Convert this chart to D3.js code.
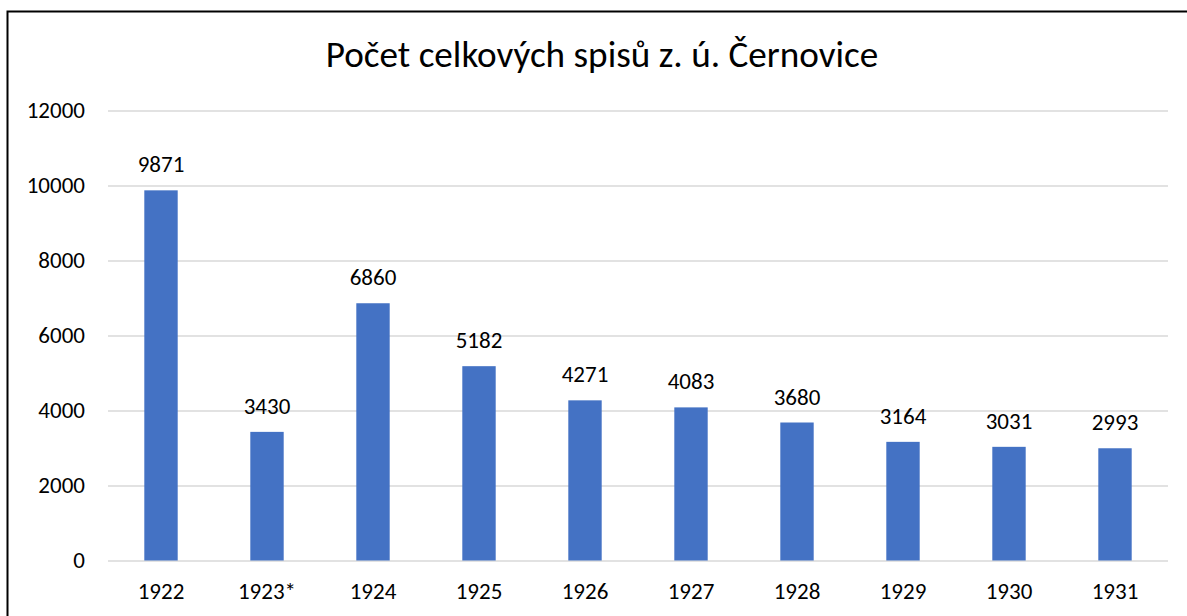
<!doctype html>
<html>
<head>
<meta charset="utf-8">
<script src="https://cdn.jsdelivr.net/npm/d3@7"></script>
<style>
  body { margin: 0; background: #fff; }
  svg { display: block; font-family: Carlito, "Noto Sans", sans-serif; }
</style>
</head>
<body>
<svg width="1187" height="616"></svg>
<script>
// data
var years = ["1922", "1923*", "1924", "1925", "1926", "1927", "1928", "1929", "1930", "1931"];
var counts = [9871, 3430, 6860, 5182, 4271, 4083, 3680, 3164, 3031, 2993];
var yTicks = [0, 2000, 4000, 6000, 8000, 10000, 12000];
var title = "Počet celkových spisů z. ú. Černovice";

var rows = years.map((y, i) => ({year: y, count: counts[i]}));

var svg = d3.select("svg");
var plotL = 108, plotR = 1168, plotT = 110.5, plotB = 560.5;
var fontStack = "Carlito, 'Noto Sans', sans-serif";

// outer frame (runs off the picture on right/bottom)
svg.append("rect")
   .attr("x", 7.5).attr("y", 11.5)
   .attr("width", 1300).attr("height", 700)
   .style("fill", "none")
   .style("stroke", "#000")
   .style("stroke-width", 2);

svg.append("text")
   .attr("x", 602).attr("y", 67)
   .attr("text-anchor", "middle")
   .style("font-size", "37.2px")
   .style("fill", "#000")
   .text(title);

var x = d3.scaleBand()
          .domain(years)
          .range([plotL, plotR])
          .paddingInner(0.685)
          .paddingOuter(0.3425);

var y = d3.scaleLinear()
          .domain([0, 12000])
          .range([plotB, plotT]);

// gridlines + y labels
var yAxis = d3.axisLeft(y)
              .tickValues(yTicks)
              .tickSize(-(plotR - plotL))
              .tickPadding(23)
              .tickFormat(d3.format("d"));
var gy = svg.append("g")
            .attr("transform", `translate(${plotL},0)`)
            .call(yAxis);
gy.select(".domain").remove();
gy.selectAll(".tick line").style("stroke", "#d9d9d9").style("stroke-width", 1.5);
gy.selectAll(".tick text")
  .style("font-size", "23px")
  .style("fill", "#000")
  .style("font-family", fontStack);

// x labels
var xAxis = d3.axisBottom(x).tickSize(0).tickPadding(22);
var gx = svg.append("g")
            .attr("transform", `translate(0,${plotB})`)
            .call(xAxis);
gx.select(".domain").remove();
gx.selectAll(".tick text")
  .style("font-size", "23px")
  .style("fill", "#000")
  .style("font-family", fontStack);

// bars
svg.append("g").selectAll("rect")
   .data(rows)
   .enter().append("rect")
   .attr("x", d => x(d.year))
   .attr("y", d => y(d.count))
   .attr("width", x.bandwidth())
   .attr("height", d => y(0) - y(d.count))
   .style("fill", "#4472c4");

// value labels
svg.append("g").selectAll("text")
   .data(rows)
   .enter().append("text")
   .attr("x", d => x(d.year) + x.bandwidth() / 2)
   .attr("y", d => y(d.count) - 18)
   .attr("text-anchor", "middle")
   .style("font-size", "23px")
   .style("fill", "#000")
   .text(d => d.count);
</script>
</body>
</html>
